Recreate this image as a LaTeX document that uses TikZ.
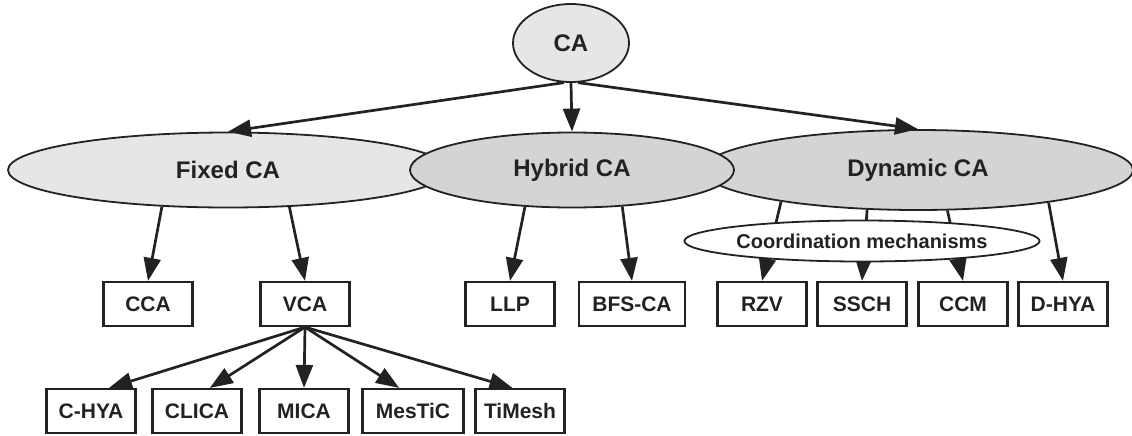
\documentclass[tikz,border=0pt]{standalone}
\usepackage{fontspec}
\setmainfont{Liberation Sans}
\usetikzlibrary{shapes.geometric,arrows.meta}
\definecolor{lightfill}{HTML}{E6E6E6}
\definecolor{darkfill}{HTML}{D4D4D4}
\definecolor{ink}{HTML}{222222}
\tikzset{
	group/.style={draw=ink, ellipse, inner sep=0pt, line width=0.9pt, text=ink, font=\bfseries\fontsize{12}{14}\selectfont},
	leaf/.style={draw=ink, rectangle, inner sep=0pt, line width=1.1pt, minimum width=44.5pt, minimum height=22pt, text=ink, font=\bfseries\fontsize{10.5}{12}\selectfont},
	link/.style={draw=ink, line width=1.35pt, -{Triangle[length=11.5pt,width=8.5pt]}}
}
\begin{document}
\begin{tikzpicture}[x=0.5pt,y=-0.5pt]
		\useasboundingbox (0,0) rectangle (1132,435);
		\node (fixed)[group, fill=lightfill, minimum width=220pt, minimum height=37.5pt] at (228,170) {Fixed CA};
		\node (dynamic)[group, fill=darkfill, minimum width=215pt, minimum height=40pt] at (918,170) {Dynamic CA};
		\node (hybrid)[group, fill=darkfill, minimum width=162pt, minimum height=37.5pt] at (572,170) {Hybrid CA};
		\node (ca)[group, fill=lightfill, minimum width=58pt, minimum height=39pt] at (571,43) {CA};
		\node (cca)[leaf] at (148,304) {CCA};
		\node (vca)[leaf] at (305,304) {VCA};
		\node (llp)[leaf] at (510,304) {LLP};
		\node (bfsca)[leaf, minimum width=53pt] at (632,304) {BFS-CA};
		\node (rzv)[leaf] at (762,304) {RZV};
		\node (ssch)[leaf] at (862,304) {SSCH};
		\node (ccm)[leaf] at (963,304) {CCM};
		\node (dhya)[leaf] at (1063,304) {D-HYA};
		\node (chya)[leaf] at (91,411) {C-HYA};
		\node (clica)[leaf] at (197,411) {CLICA};
		\node (mica)[leaf] at (304,411) {MICA};
		\node (mestic)[leaf, minimum width=50.5pt] at (413,411) {MesTiC};
		\node (timesh)[leaf] at (520,411) {TiMesh};
		\draw [link](ca.260) -- (fixed.north);
		\draw [link](ca.south) -- (hybrid.north);
		\draw [link](ca.280) -- (dynamic.north);
		\draw [link](fixed.209) -- (cca.north);
		\draw [link](fixed.329) -- (vca.north);
		\draw [link](hybrid.218) -- (llp.north);
		\draw [link](hybrid.324) -- (bfsca.north);
		\draw [link](dynamic.193) -- (rzv.north);
		\draw [link](dynamic.218) -- (ssch.north);
		\draw [link](dynamic.306) -- (ccm.north);
		\draw [link](dynamic.346) -- (dhya.north);
		\draw [link](vca.south) -- (chya.52);
		\draw [link](vca.south) -- (clica.61);
		\draw [link](vca.south) -- (mica.north);
		\draw [link](vca.south) -- (mestic.121);
		\draw [link](vca.south) -- (timesh.108);
		\node (coord)[group, fill=white, minimum width=164pt, minimum height=20.5pt, font=\bfseries\fontsize{10}{12}\selectfont] at (862,241) {Coordination mechanisms};
	\end{tikzpicture}
\end{document}
